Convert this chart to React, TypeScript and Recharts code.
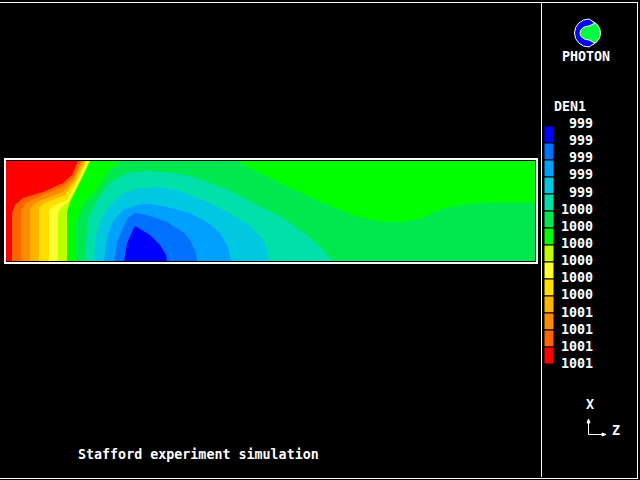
import React from 'react';
import { Area, Bar, BarChart, ComposedChart, XAxis, YAxis } from 'recharts';

type Pt = [number, number];

// contour lines: [z cell, height] with z 0-529 and height 0-100
const fieldColor = '#00ff00';
const fullField: Pt[] = [[0, 100], [529, 100]];

const coldColors = ['#00e850', '#00e0a8', '#00c8e0', '#00a0ff', '#0070ff', '#0000ff'];
const coldDomes: Pt[][] = [
  [[70, 0], [70, 38], [77, 56], [91, 71], [101, 88], [114, 100], [231, 100], [251, 89], [284, 73], [317, 58], [351, 44], [377, 39], [394, 39], [414, 42], [427, 48], [444, 54], [464, 57], [481, 58], [529, 58]],
  [[79, 0], [80, 21], [82, 43], [91, 61], [104, 78], [121, 88], [141, 90], [167, 88], [184, 85], [204, 78], [227, 69], [251, 56], [277, 43], [301, 26], [317, 11], [326, 0]],
  [[88, 0], [89, 21], [94, 39], [102, 54], [117, 68], [134, 73], [154, 74], [174, 70], [184, 66], [204, 58], [227, 46], [247, 33], [259, 19], [263, 0]],
  [[98, 0], [101, 24], [107, 39], [117, 51], [131, 56], [141, 57.5], [161, 54], [184, 48], [201, 39], [214, 28], [222, 14], [225, 0]],
  [[108, 0], [111, 18], [116, 31], [122, 43], [129, 48], [141, 46], [161, 39], [177, 29], [184, 21], [190, 8], [191, 0]],
  [[118, 0], [121, 18], [126, 29], [129, 35], [134, 32], [144, 26], [154, 16], [160, 6], [161, 0]],
];

const hotColors = ['#c0ff00', '#ffff30', '#ffe000', '#ffb400', '#ff8c00', '#ff6400', '#ff0000'];
const hotEdges: Pt[][] = [
  [[0, 0], [61, 0], [61, 49], [64, 59], [76, 83], [84, 100]],
  [[0, 0], [52, 0], [52, 49], [56, 54], [62, 59], [74, 81], [83, 100]],
  [[0, 0], [43, 0], [43, 51], [49, 56], [61, 61], [72, 81], [81, 100]],
  [[0, 0], [33, 0], [33, 53], [39, 58], [59, 66], [70, 81], [79, 100]],
  [[0, 0], [24, 0], [24, 53], [31, 59], [57, 69], [68, 81], [77, 100]],
  [[0, 0], [15, 0], [15, 51], [21, 59], [37, 66], [57, 74], [67, 83], [75, 100]],
  [[0, 0], [6, 0], [6, 48], [9, 56], [17, 63], [37, 69], [57, 78], [66, 86], [72, 100]],
];

const legendColors = ['#0000ff', '#0070ff', '#00a0ff', '#00c8e0', '#00e0a8', '#00e850', '#00ff00', '#c0ff00', '#ffff30', '#ffe000', '#ffb400', '#ff8c00', '#ff6400', '#ff0000'];
const legendLabels = ['999', '999', '999', '999', '999', '1000', '1000', '1000', '1000', '1000', '1000', '1001', '1001', '1001', '1001'];
const legendTicks = legendLabels.map((_, i) => i);

const toRows = (pts: Pt[]) => pts.map(([z, h]) => ({ z, h }));

const mono = '"DejaVu Sans Mono", monospace';

function LegendTick({ y, payload }: any) {
  return (
    <text x={49} y={y + 2 + payload.value / 7} textAnchor="end" fill="#fff" fontFamily={mono} fontSize={13.33} fontWeight={700}>
      {legendLabels[payload.value]}
    </text>
  );
}

function Logo() {
  return (
    <svg width={34} height={34} style={{ position: 'absolute', left: 570, top: 16 }}>
      <circle cx={18} cy={17} r={12.5} fill="#00ff40" stroke="#fff" />
      <path d="M19 3 A14.5 14 0 1 0 19 31 L25 27 L19 24 A9 7 0 0 1 19 10 L25 7 Z" fill="#0000ff" stroke="#fff" />
    </svg>
  );
}

function Label({ x, y, text }: { x: number; y: number; text: string }) {
  return (
    <div style={{ position: 'absolute', left: x, top: y, color: '#fff', fontFamily: mono, fontSize: 13.33, lineHeight: '14px', fontWeight: 700, whiteSpace: 'pre' }}>
      {text}
    </div>
  );
}

export default function App() {
  return (
    <div style={{ position: 'absolute', left: 0, top: 0, width: 640, height: 480, background: '#000', overflow: 'hidden' }}>
      {/* frame */}
      <div style={{ position: 'absolute', left: 0, top: 2, width: 637, height: 475, borderTop: '1px solid #fff', borderRight: '1px solid #fff', borderBottom: '1px solid #fff' }} />
      <div style={{ position: 'absolute', left: 541, top: 2, width: 1, height: 475, background: '#fff' }} />
      <div style={{ position: 'absolute', left: 4, top: 158, width: 530, height: 102, border: '2px solid #fff' }} />

      <ComposedChart width={640} height={480} margin={{ top: 161, left: 6, right: 105, bottom: 219 }} style={{ position: 'absolute', left: 0, top: 0 }}>
        <XAxis type="number" dataKey="z" domain={[0, 529]} hide allowDuplicatedCategory />
        <YAxis type="number" domain={[0, 100]} hide />
        <Area data={toRows(fullField)} dataKey="h" baseValue={0} type="linear" fill={fieldColor} fillOpacity={1} stroke="none" isAnimationActive={false} />
        {coldDomes.map((pts, i) => (
          <Area key={i} data={toRows(pts)} dataKey="h" baseValue={0} type="linear" fill={coldColors[i]} fillOpacity={1} stroke="none" isAnimationActive={false} />
        ))}
        {hotEdges.map((pts, i) => (
          <Area key={i} data={toRows(pts)} dataKey="h" baseValue={100} type="linear" fill={hotColors[i]} fillOpacity={1} stroke="none" isAnimationActive={false} />
        ))}
      </ComposedChart>

      {/* colour key: one stacked column, tick labels sit on the band edges */}
      <BarChart
        width={70}
        height={380}
        data={[Object.fromEntries(legendColors.map((_, i) => ['c' + i, 1]))]}
        margin={{ top: 126, left: 0, right: 0, bottom: 16 }}
        barCategoryGap={0}
        style={{ position: 'absolute', left: 544, top: 0 }}
      >
        <XAxis hide />
        <YAxis
          type="number"
          orientation="right"
          width={60}
          domain={[0, 14]}
          reversed
          ticks={legendTicks}
          interval={0}
          tick={<LegendTick />}
          axisLine={false}
          tickLine={false}
        />
        {legendColors.map((c, i) => (
          <Bar key={c} dataKey={'c' + i} stackId="legend" fill={c} stroke="#000" isAnimationActive={false} />
        ))}
      </BarChart>

      <Logo />
      <Label x={562} y={50} text="PHOTON" />
      <Label x={554} y={100} text="DEN1" />
      <Label x={586} y={398} text="X" />
      <Label x={612} y={424} text="Z" />
      <svg width={40} height={30} style={{ position: 'absolute', left: 580, top: 414 }}>
        <path d="M8.5 6 V20.5 H24" fill="none" stroke="#fff" />
        <path d="M7 9 L8.5 5 L10 9 Z M22 19 L26 20.5 L22 22 Z" fill="#fff" stroke="#fff" />
      </svg>
      <Label x={78} y={448} text="Stafford experiment simulation" />
    </div>
  );
}
